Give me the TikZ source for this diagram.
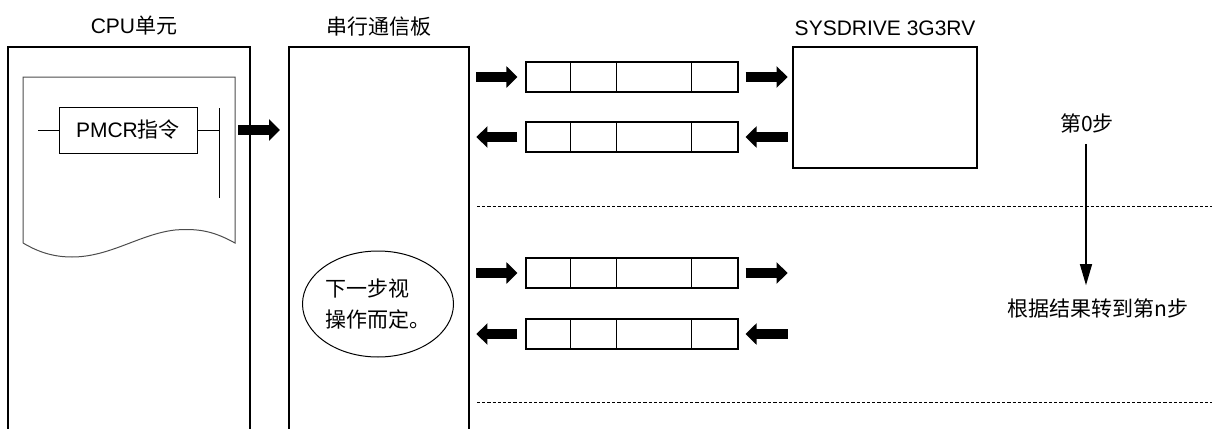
\documentclass[tikz,border=0pt]{standalone}
\usepackage{fontspec}
\setmainfont{Liberation Sans}
\newfontfamily\cjk{Noto Sans CJK SC}
\usetikzlibrary{arrows.meta,shapes.geometric}

\begin{document}
\begin{tikzpicture}[x=0.5pt,y=-0.5pt,
  font=\fontsize{10.5}{13}\selectfont,
  unit/.style={line width=1.1pt},
  fat/.style={line width=5pt,-{Triangle[length=5.5pt,width=10.5pt]}},
  frame/.style={draw,line width=0.6pt,minimum width=106pt,minimum height=15pt,inner sep=0pt},
  sepline/.style={line width=0.45pt,dash pattern=on 1.6pt off 1pt},
  stepline/.style={line width=0.6pt,-{Triangle[length=10.5pt,width=6pt]}}]
  \useasboundingbox (0,0) rectangle (1212,429);

  % CPU unit
  \node (cpulabel) at (134,26) {CPU{\cjk 单元}};
  \draw[unit] (8,429) |- (250,47) -- (250,429);
  \draw[line width=0.5pt,black!70] (23,243) -- (23,77) -- (235,77) -- (235,243)
    .. controls (215,232) and (200,228) .. (175,230)
    .. controls (140,234) and (110,257) .. (72,257)
    .. controls (50,257) and (35,250) .. (23,243);
  \node[draw,line width=0.5pt,minimum width=69pt,minimum height=23pt,inner sep=0pt] (pmcr) at (128,130) {PMCR{\cjk 指令}};
  \coordinate (railtop) at (219,108);
  \coordinate (railbot) at (219,198);
  \draw[line width=0.5pt] (38,130) -- (pmcr.west);
  \draw[line width=0.5pt] (pmcr.east) -- (pmcr.east -| railtop);
  \draw[line width=0.5pt] (railtop) -- (railbot);

  \coordinate (cpuout) at (238,130);
  \coordinate (boardin) at (280,130);
  \draw[fat] (cpuout) -- (boardin);

  % serial board
  \node (boardlabel) at (379,27) {\cjk 串行通信板};
  \draw[unit] (289,429) |- (469,47) -- (469,429);
  \node[ellipse,draw,line width=0.5pt,minimum width=75.5pt,minimum height=53pt,
    inner sep=0pt,align=left,font=\cjk\fontsize{10.5}{15.5}\selectfont] (note) at (378,304)
    {下一步视\\操作而定。};

  % message frames
  \foreach \n/\y in {a/77,b/137,c/273,d/334} {
    \node[frame] (f\n) at (632,\y) {};
    \foreach \d in {45,91,166}
      \draw[line width=0.6pt] ([shift={(\d,0)}]f\n.north west) -- ([shift={(\d,0)}]f\n.south west);
  }
  \foreach \n in {a,c} {
    \draw[fat] ([shift={(-49,0)}]f\n.west) -- ([shift={(-8,0)}]f\n.west);
    \draw[fat] ([shift={(7,0)}]f\n.east) -- ([shift={(49,0)}]f\n.east);
  }
  \foreach \n in {b,d} {
    \draw[fat] ([shift={(-8,0)}]f\n.west) -- ([shift={(-49,0)}]f\n.west);
    \draw[fat] ([shift={(49,0)}]f\n.east) -- ([shift={(7,0)}]f\n.east);
  }

  % drive
  \node (drivelabel) at (885,28) {SYSDRIVE 3G3RV};
  \node[draw,unit,minimum width=92pt,minimum height=60.5pt,inner sep=0pt] (drive) at (885,107.5) {};

  % step separators
  \draw[sepline] (477,206) -- (1212,206);
  \draw[sepline] (477,402) -- (1212,402);

  \node[font=\cjk\fontsize{10.5}{13}\selectfont] (step0) at (1087,123) {第0步};
  \node[font=\cjk\fontsize{10.5}{13}\selectfont] (stepn) at (1098,308) {根据结果转到第n步};
  \draw[stepline,shorten <=2pt,shorten >=3pt] ([xshift=-0.5pt]step0.south) -- ([xshift=-0.5pt]step0.south |- stepn.north);
\end{tikzpicture}
\end{document}
